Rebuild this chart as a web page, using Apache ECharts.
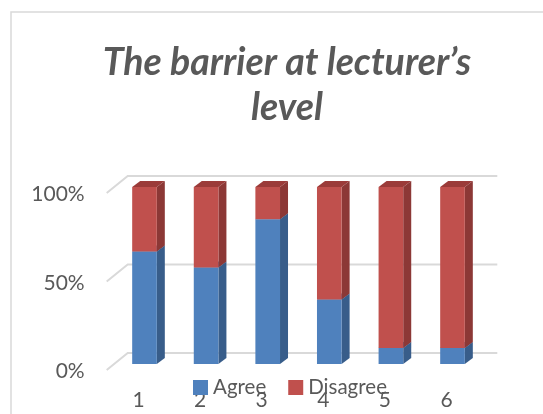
<!DOCTYPE html>
<html>
<head>
<meta charset="utf-8">
<script src="https://cdn.jsdelivr.net/npm/echarts@6/dist/echarts.min.js"></script>
<style>html,body{margin:0;padding:0;background:#fff;}#c{width:543px;height:414px;}</style>
</head>
<body>
<div id="c"></div>
<script>
var categories = ['1', '2', '3', '4', '5', '6'];
var agree = [63.6, 54.5, 81.8, 36.4, 9.1, 9.1];
var disagree = [36.4, 45.5, 18.2, 63.6, 90.9, 90.9];
var yTicks = [0, 50, 100];
var seriesNames = ['Agree', 'Disagree'];

var chart = echarts.init(document.getElementById('c'), null, {renderer: 'canvas'});

function stackData(base, vals) {
  return vals.map(function (v, i) { return [i, base[i], base[i] + v]; });
}
var zeros = agree.map(function () { return 0; });
var agreeData = stackData(zeros, agree);
var disagreeData = stackData(agree, disagree);

var DX = 8, DY = -6;
function bar3d(front, side, top) {
  return function (params, api) {
    var c = api.value(0);
    var p0 = api.coord([c, api.value(1)]);
    var p1 = api.coord([c, api.value(2)]);
    var w = api.size([1, 0])[0] * 0.4;
    var x0 = p0[0] - w / 2, x1 = p0[0] + w / 2;
    var yb = p0[1], yt = p1[1];
    return {
      type: 'group',
      children: [
        {type: 'polygon', shape: {points: [[x0, yt], [x1, yt], [x1 + DX, yt + DY], [x0 + DX, yt + DY]]}, style: {fill: top}},
        {type: 'polygon', shape: {points: [[x1, yb], [x1 + DX, yb + DY], [x1 + DX, yt + DY], [x1, yt]]}, style: {fill: side}},
        {type: 'rect', shape: {x: x0, y: yt, width: w, height: yb - yt}, style: {fill: front}}
      ]
    };
  };
}

function gridLines(params, api) {
  var cs = params.coordSys;
  var p = api.coord([0, api.value(1)]);
  var y = p[1];
  return {
    type: 'polyline',
    shape: {points: [[cs.x - 7, y + 6], [cs.x + 14, y - 11], [cs.x + cs.width + 14, y - 11]]},
    style: {stroke: '#d9d9d9', lineWidth: 2, fill: null}
  };
}

var option = {
  animation: false,
  title: {
    text: 'The barrier at lecturer\u2019s\nlevel',
    left: 282, top: 35, textAlign: 'center',
    textStyle: {fontFamily: 'Lato', fontStyle: 'italic', fontWeight: 'bold', fontSize: 37.5, color: '#595959', lineHeight: 45}
  },
  graphic: [{type: 'rect', shape: {x: 11, y: 12, width: 560, height: 420}, style: {fill: null, stroke: '#d9d9d9', lineWidth: 1.5}, silent: true, z: -10}],
  legend: {
    data: [{name: 'Agree', itemStyle: {color: '#4f81bd'}}, {name: 'Disagree', itemStyle: {color: '#c0504d'}}],
    left: 188, top: 372, itemWidth: 15, itemHeight: 15, itemGap: 22,
    icon: 'rect',
    textStyle: {fontFamily: 'Lato', fontSize: 20.5, color: '#595959', padding: [0, 0, 0, 0]}
  },
  grid: {left: 113.7, right: 59.7, top: 187, bottom: 50},
  xAxis: {
    type: 'category', data: categories,
    axisLine: {show: false}, axisTick: {show: false}, splitLine: {show: false},
    axisLabel: {fontFamily: 'Lato', fontSize: 21, color: '#595959', margin: 26, padding: [0, 12, 0, 0]}
  },
  yAxis: {
    type: 'value', min: 0, max: 100, interval: 50,
    axisLine: {show: false}, axisTick: {show: false}, splitLine: {show: false},
    axisLabel: {fontFamily: 'Lato', fontSize: 21, color: '#595959', margin: 29, verticalAlign: 'top', lineHeight: 15,
      formatter: function (v) { return v + '%'; }}
  },
  series: [
    {type: 'custom', name: 'grid', renderItem: gridLines, data: yTicks.map(function (v) { return [0, v]; }), encode: {x: 0, y: 1}, silent: true, z: 1},
    {type: 'custom', name: seriesNames[0], renderItem: bar3d('#4f81bd', '#385d8a', '#4372a8'), data: agreeData, encode: {x: 0, y: [1, 2]}, itemStyle: {color: '#4f81bd'}, z: 2},
    {type: 'custom', name: seriesNames[1], renderItem: bar3d('#c0504d', '#8c3836', '#9b3b39'), data: disagreeData, encode: {x: 0, y: [1, 2]}, itemStyle: {color: '#c0504d'}, z: 3}
  ]
};
chart.setOption(option);
</script>
</body>
</html>
